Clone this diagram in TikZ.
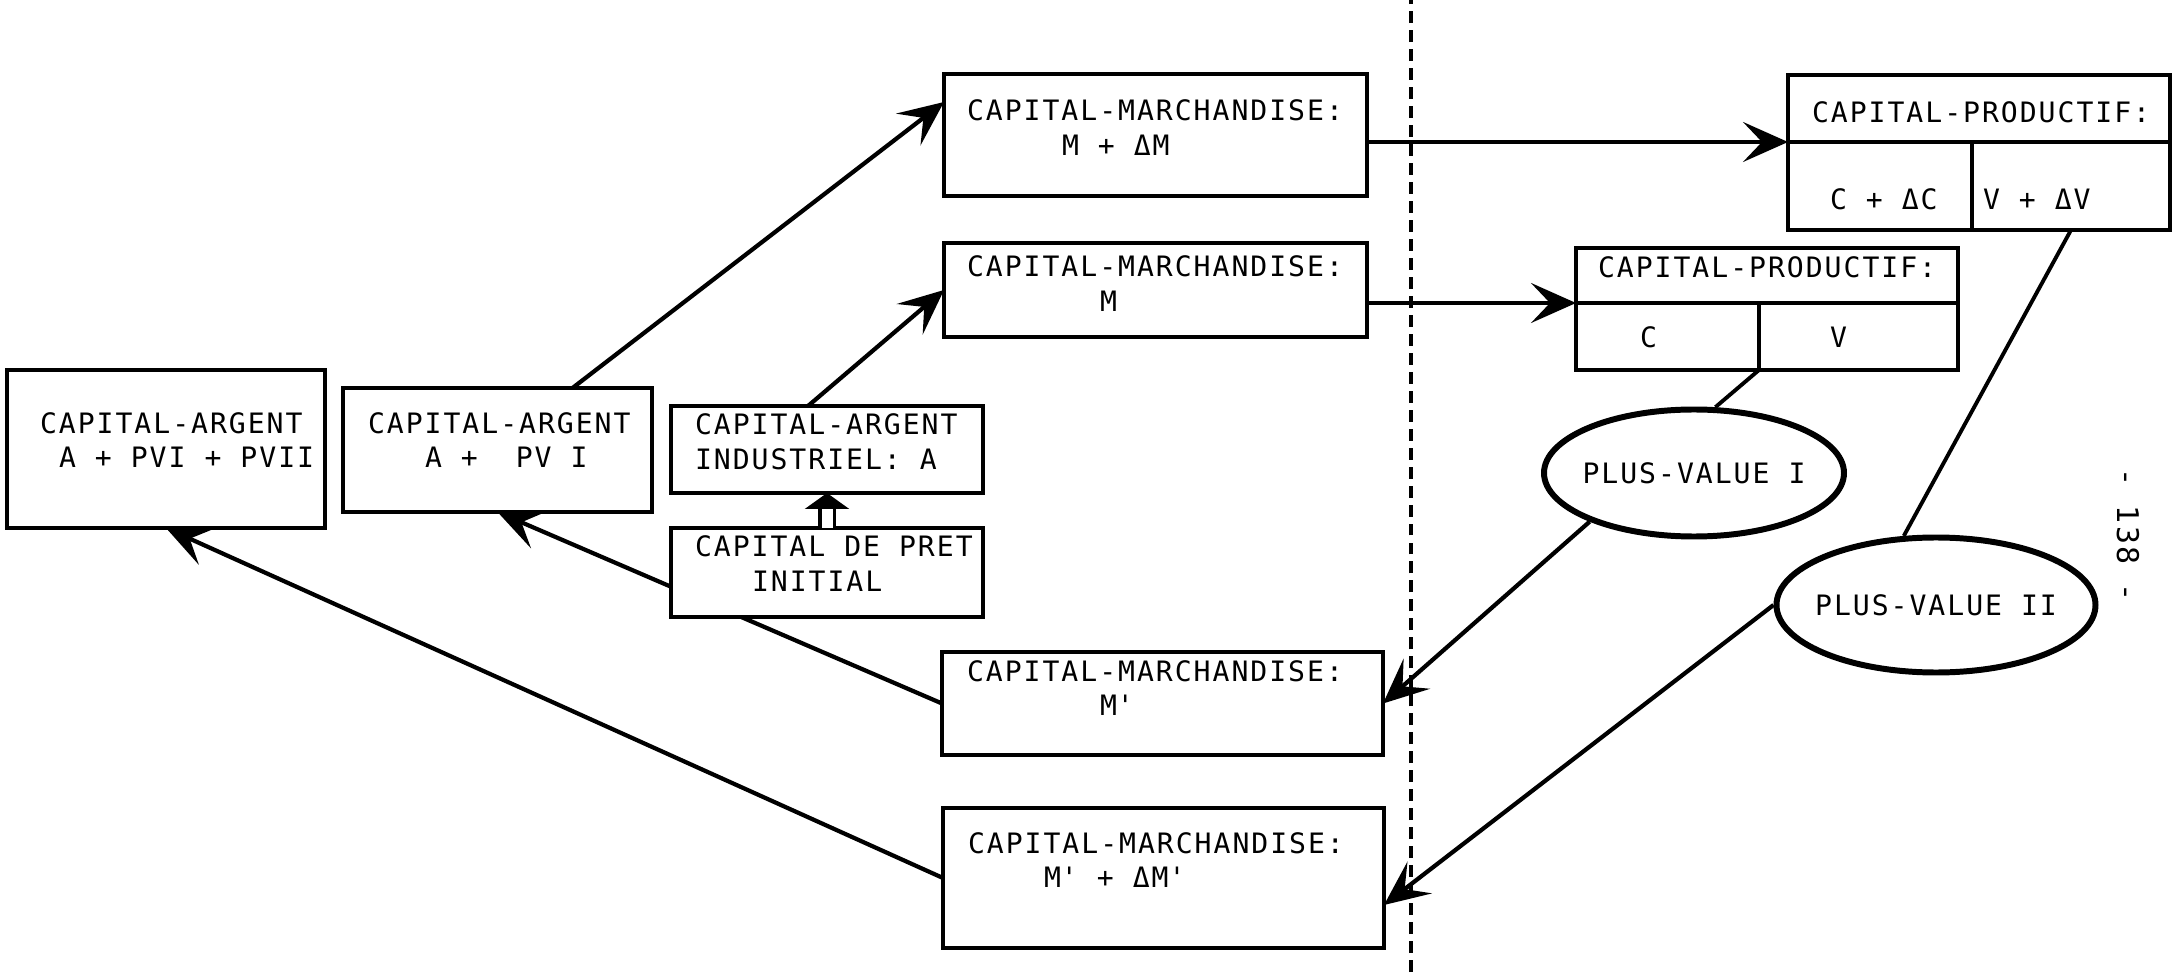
\documentclass[tikz,border=0pt]{standalone}
\usepackage{fontspec}
\usetikzlibrary{arrows.meta,shapes.geometric,backgrounds}
\newfontfamily\maquina[LetterSpace=7]{DejaVu Sans Mono}
\newlength{\passo}\setlength{\passo}{0.19cm} %passo da maquina de escrever
\newcommand{\esp}[1][1]{\hspace*{#1\passo}}
\tikzset{
	boite/.style={draw, line width=1.2pt, fill=white, anchor=north west, align=left,
		inner ysep=0pt, outer sep=0pt, font={\maquina\fontsize{8}{9.8}\selectfont},
		execute at begin node={\exhyphenpenalty=10000}},
	bulle/.style={draw, ellipse, line width=1.7pt, fill=white, inner sep=0pt,
		font={\maquina\fontsize{8}{9.8}\selectfont}},
	seta/.style={line width=1.2pt, -{Stealth[length=4.5mm,width=4mm,inset=1.9mm]}},
	traco/.style={line width=1.1pt},
}
\begin{document}
\begin{tikzpicture}
	\useasboundingbox (0,0) rectangle (21.84,9.72); %Tamanho da folha
		%Linha pontilhada
	\draw[line width=1.1pt, dash pattern=on 3.4pt off 2pt] (14.11,0) -- (14.11,9.72);
		%Capital-argent
	\node[boite, text width=2.52cm, inner xsep=0.33cm, text height=0.63cm, text depth=0.95cm] (ca1) at (0.07,6.02) {CAPITAL-ARGENT\\\esp A\esp+\esp PVI\esp+\esp PVII};
	\node[boite, text width=2.59cm, inner xsep=0.25cm, text height=0.45cm, text depth=0.79cm] (ca2) at (3.43,5.84) {CAPITAL-ARGENT\\\esp[3]A\esp+\esp[2]PV\esp I};
	\node[boite, text width=2.64cm, inner xsep=0.24cm, text height=0.29cm, text depth=0.58cm] (ca3) at (6.71,5.66) {CAPITAL-ARGENT\\INDUSTRIEL:\esp A};
	\node[boite, text width=2.64cm, inner xsep=0.24cm, text height=0.29cm, text depth=0.60cm] (pret) at (6.71,4.44) {CAPITAL\esp DE\esp PRET\\\esp[3]INITIAL};
		%Capital-marchandise
	\node[boite, text width=3.77cm, inner xsep=0.23cm, text height=0.47cm, text depth=0.75cm] (cm1) at (9.44,8.98) {CAPITAL-MARCHANDISE:\\\esp[5]M\esp+\esp ΔM};
	\node[boite, text width=3.77cm, inner xsep=0.23cm, text height=0.34cm, text depth=0.60cm] (cm2) at (9.44,7.29) {CAPITAL-MARCHANDISE:\\\esp[7]M};
	\node[boite, text width=3.91cm, inner xsep=0.25cm, text height=0.29cm, text depth=0.74cm] (cm3) at (9.42,3.20) {CAPITAL-MARCHANDISE:\\\esp[7]M\textquotesingle};
	\node[boite, text width=3.91cm, inner xsep=0.25cm, text height=0.45cm, text depth=0.95cm] (cm4) at (9.43,1.64) {CAPITAL-MARCHANDISE:\\\esp[4]M\textquotesingle\esp+\esp ΔM\textquotesingle};
		%Capital-productif
	\node[boite, text width=3.34cm, inner xsep=0.24cm, text height=0.48cm, text depth=0.19cm] (cp1) at (17.88,8.97) {CAPITAL-PRODUCTIF:};
	\node[boite, text width=1.00cm, inner xsep=0.42cm, text height=0.68cm, text depth=0.20cm] (cp1c) at (cp1.south west) {C\esp+\esp ΔC};
	\node[boite, text width=1.76cm, inner xsep=0.11cm, text height=0.68cm, text depth=0.20cm] (cp1v) at (cp1c.north east) {V\esp+\esp ΔV};
	\node[boite, text width=3.38cm, inner xsep=0.22cm, text height=0.30cm, text depth=0.25cm] (cp2) at (15.76,7.24) {CAPITAL-PRODUCTIF:};
	\node[boite, text width=0.55cm, inner xsep=0.64cm, text height=0.45cm, text depth=0.22cm] (cp2c) at (cp2.south west) {C};
	\node[boite, text width=0.57cm, inner xsep=0.71cm, text height=0.45cm, text depth=0.22cm] (cp2v) at (cp2c.north east) {V};
		%Plus-value
	\node[bulle, minimum width=3.00cm, minimum height=1.27cm] (pv1) at (16.94,4.99) {\makebox[0pt]{PLUS-VALUE\esp I}};
	\node[bulle, minimum width=3.19cm, minimum height=1.35cm] (pv2) at (19.36,3.67) {\makebox[0pt]{PLUS-VALUE\esp II}};
		%Numero da pagina
	\node[font={\maquina\fontsize{8.5}{8.5}\selectfont}, rotate=-90] (pagina) at (21.28,4.37) {-\esp 138\esp -};
		%Setas
	\draw[double, double distance=1.1mm, line width=0.9pt, -{Triangle[length=1.6mm,width=4.4mm]}] (pret.north) -- (ca3.south);
	\begin{pgfonlayer}{background}
	\draw[seta] ([xshift=0.75cm]ca2.north) -- ([yshift=-0.28cm]cm1.north west);
	\draw[seta] ([xshift=-0.19cm]ca3.north) -- (cm2.west);
	\draw[seta] (cm1.east |- cp1c.north west) -- (cp1c.north west);
	\draw[seta] (cm2.east |- cp2c.north west) -- (cp2c.north west);
	\draw[traco] (cp2c.south east) -- (pv1.72);
	\draw[traco] (cp1v.south) -- (pv2.115);
	\draw[seta] (pv1.205) -- (cm3.east);
	\draw[seta] (pv2.west) -- ([yshift=-0.27cm]cm4.east);
	\draw[seta] (cm3.west) -- (ca2.south); %Passa por baixo do capital de pret
	\draw[seta] (cm4.west) -- (ca1.south);
	\end{pgfonlayer}
\end{tikzpicture}
\end{document}
